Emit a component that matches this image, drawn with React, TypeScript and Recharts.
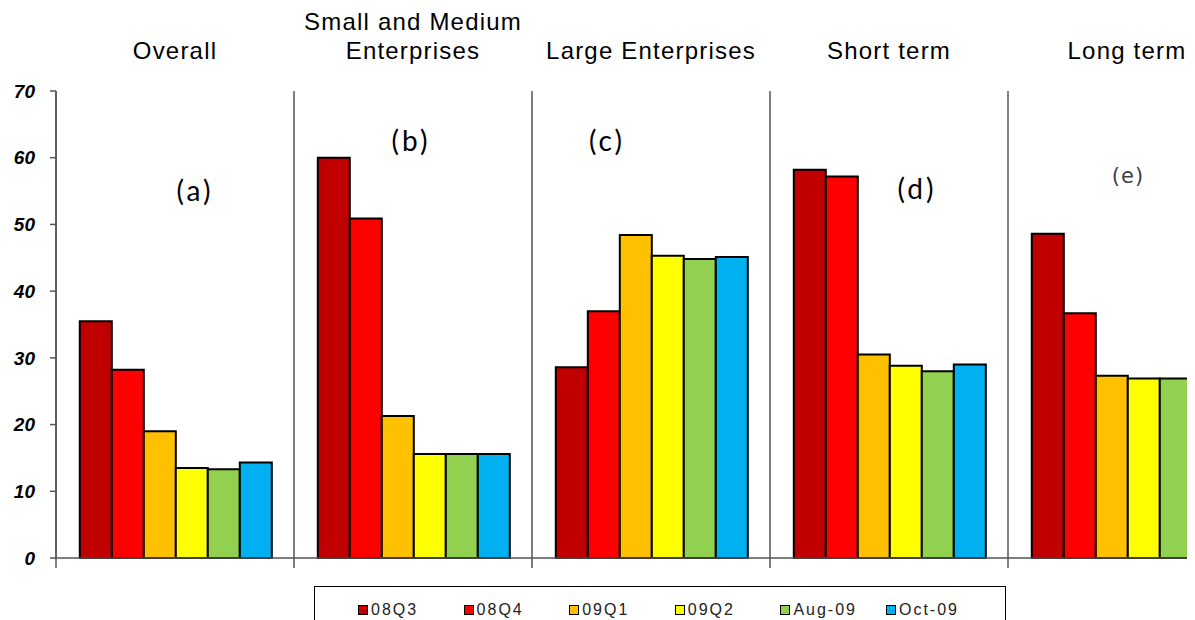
import React from 'react';
import { BarChart, Bar, XAxis, YAxis, CartesianGrid, Legend, ReferenceDot } from 'recharts';

// Panel headings (multi-line where the heading wraps) and the category keys built from them
const categoryTitles: string[][] = [
  ['Overall'],
  ['Small and Medium', 'Enterprises'],
  ['Large Enterprises'],
  ['Short term'],
  ['Long term'],
];
const categories = categoryTitles.map((lines) => lines.join(' '));

// Survey periods and their values per panel
const seriesNames = ['08Q3', '08Q4', '09Q1', '09Q2', 'Aug-09', 'Oct-09'];
const values08Q3 = [35.5, 60.0, 28.6, 58.2, 48.6];
const values08Q4 = [28.2, 50.9, 37.0, 57.2, 36.7];
const values09Q1 = [19.0, 21.3, 48.4, 30.5, 27.3];
const values09Q2 = [13.5, 15.6, 45.3, 28.8, 26.9];
const valuesAug09 = [13.3, 15.6, 44.8, 28.0, 26.9];
const valuesOct09 = [14.3, 15.6, 45.1, 29.0, 27.0];
const seriesValues = [values08Q3, values08Q4, values09Q1, values09Q2, valuesAug09, valuesOct09];
const seriesColors = ['#C00000', '#FF0000', '#FFC000', '#FFFF00', '#92D050', '#00B0F0'];

const yTicks = [0, 10, 20, 30, 40, 50, 60, 70];

// Panel tags, anchored at a value level inside each panel
const panelTags = ['(a)', '(b)', '(c)', '(d)', '(e)'];
const panelTagLevels = [55.2, 62.7, 62.7, 55.5, 57.3];
const panelTagShift = [20, -2, -44, 28, 1];

const rows = categories.map((category, i) => {
  const row: Record<string, string | number> = { category };
  seriesNames.forEach((name, k) => {
    row[name] = seriesValues[k][i];
  });
  return row;
});

const AXIS_GREY = '#555555';
const SANS = '"Liberation Sans", Arial, sans-serif';

const TitleTick = (props: any) => {
  const { x, y, payload } = props;
  const idx = categories.indexOf(payload.value);
  const lines = categoryTitles[idx] || [String(payload.value)];
  return (
    <g>
      {lines.map((line, k) => (
        <text
          key={k}
          x={x}
          y={y - 32 - (lines.length - 1 - k) * 29}
          textAnchor="middle"
          fontFamily={SANS}
          fontSize={24}
          letterSpacing={1.2}
          fill="#000"
        >
          {line}
        </text>
      ))}
    </g>
  );
};

// Tick marks sit on the boundaries between panels
const BoundaryTick = (props: any) => {
  const { x, y, width, visibleTicksCount, payload } = props;
  const band = width / visibleTicksCount;
  const left = x - band / 2;
  const isLast = payload && payload.index === visibleTicksCount - 1;
  return (
    <g>
      <line x1={left} x2={left} y1={y} y2={y + 10} stroke={AXIS_GREY} strokeWidth={1.5} />
      {isLast && (
        <line x1={x + band / 2} x2={x + band / 2} y1={y} y2={y + 10} stroke={AXIS_GREY} strokeWidth={1.5} />
      )}
    </g>
  );
};

const LegendBox = (props: any) => {
  const payload = props.payload || [];
  return (
    <div
      style={{
        height: 40,
        boxSizing: 'border-box',
        border: '1px solid #000',
        background: '#fff',
        display: 'flex',
        alignItems: 'flex-start',
        paddingLeft: 43,
        paddingTop: 15,
      }}
    >
      {payload.map((entry: any) => (
        <div
          key={entry.value}
          style={{ width: 105.6, display: 'flex', alignItems: 'center', flex: '0 0 auto' }}
        >
          <span
            style={{
              display: 'inline-block',
              width: 8,
              height: 8,
              background: entry.color,
              border: '1px solid #000',
              marginRight: 3,
            }}
          />
          <span
            style={{
              fontFamily: SANS,
              fontSize: 16,
              letterSpacing: 2,
              color: '#222',
              lineHeight: '16px',
            }}
          >
            {entry.value}
          </span>
        </div>
      ))}
    </div>
  );
};

export default function App() {
  return (
    <div style={{ width: 1187, height: 612, overflow: 'hidden' }}>
      <BarChart
        width={1238}
        height={618}
        data={rows}
        margin={{ top: 0, right: 0, bottom: 0, left: 0 }}
        barCategoryGap="10%"
        barGap={0}
      >
        <CartesianGrid
          horizontal={false}
          vertical
          stroke={AXIS_GREY}
          strokeWidth={1.5}
          verticalCoordinatesGenerator={({ offset }: any) =>
            categories.map((_, i) => offset.left + (i * offset.width) / categories.length)
          }
        />
        <XAxis
          dataKey="category"
          interval={0}
          height={28}
          tickSize={0}
          tickMargin={0}
          tickLine={false}
          axisLine={{ stroke: AXIS_GREY, strokeWidth: 1.5 }}
          tick={<BoundaryTick />}
        />
        <XAxis
          xAxisId="top"
          orientation="top"
          dataKey="category"
          interval={0}
          height={83}
          tickSize={0}
          tickMargin={0}
          tickLine={false}
          axisLine={false}
          tick={<TitleTick />}
        />
        <YAxis
          domain={[0, 70]}
          ticks={yTicks}
          interval={0}
          width={48}
          tickSize={6}
          tickMargin={15}
          axisLine={{ stroke: AXIS_GREY, strokeWidth: 1.5 }}
          tickLine={{ stroke: AXIS_GREY, strokeWidth: 1.5 }}
          tick={{ fontSize: 19, fontWeight: 'bold', fontStyle: 'italic', fill: '#000', fontFamily: SANS }}
        />
        {seriesNames.map((name, k) => (
          <Bar
            key={name}
            dataKey={name}
            fill={seriesColors[k]}
            stroke="#000"
            strokeWidth={2}
            isAnimationActive={false}
          />
        ))}
        {panelTags.map((tag, i) => (
          <ReferenceDot
            key={tag}
            x={categories[i]}
            y={panelTagLevels[i]}
            r={1}
            fill="none"
            stroke="none"
            ifOverflow="visible"
            label={(p: any) => {
              const vb = p.viewBox || { x: 0, y: 0, width: 0, height: 0 };
              const last = i === panelTags.length - 1;
              return (
                <text
                  x={vb.x + vb.width / 2 + panelTagShift[i]}
                  y={vb.y + vb.height / 2}
                  textAnchor="middle"
                  dominantBaseline="central"
                  fontFamily={last ? '"DejaVu Sans", sans-serif' : 'Lato, sans-serif'}
                  fontSize={last ? 21 : 28}
                  letterSpacing={last ? 1 : 3}
                  fill={last ? '#404040' : '#000'}
                >
                  {tag}
                </text>
              );
            }}
          />
        ))}
        <Legend content={<LegendBox />} wrapperStyle={{ left: 306, width: 692 }} />
      </BarChart>
    </div>
  );
}
